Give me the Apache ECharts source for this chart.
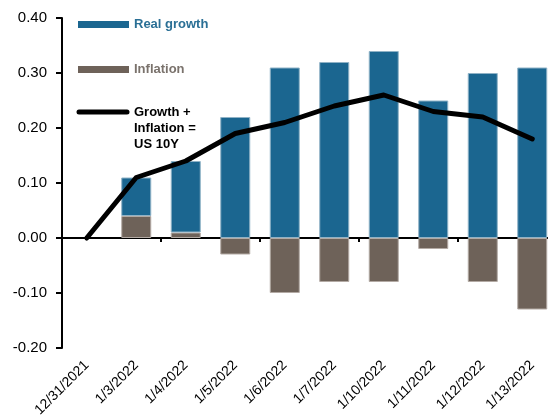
<!DOCTYPE html>
<html>
<head>
<meta charset="utf-8">
<script src="https://cdn.jsdelivr.net/npm/echarts@6/dist/echarts.min.js"></script>
<style>
  html, body { margin: 0; padding: 0; background: #fff; }
  #chart { width: 548px; height: 419px; }
</style>
</head>
<body>
<div id="chart"></div>
<script>
// Daily breakdown of the US 10Y yield change into real growth and inflation
const categories = ['12/31/2021', '1/3/2022', '1/4/2022', '1/5/2022', '1/6/2022', '1/7/2022', '1/10/2022', '1/11/2022', '1/12/2022', '1/13/2022'];
const realGrowth = [0, 0.07, 0.13, 0.22, 0.31, 0.32, 0.34, 0.25, 0.30, 0.31];
const inflation = [0, 0.04, 0.01, -0.03, -0.10, -0.08, -0.08, -0.02, -0.08, -0.13];
const us10y = [0, 0.11, 0.14, 0.19, 0.21, 0.24, 0.26, 0.23, 0.22, 0.18];
const yTicks = { min: -0.2, max: 0.4, interval: 0.1 };

const BLUE = '#1b6690';
const BROWN = '#6e6259';
const FONT = '"Liberation Sans", Arial, sans-serif';

// zero-height bars get no outline
const barData = (values) => values.map(v => v === 0 ? { value: v, itemStyle: { borderWidth: 0 } } : v);

const chart = echarts.init(document.getElementById('chart'), null, { renderer: 'canvas' });

chart.setOption({
  animation: false,
  backgroundColor: '#fff',
  textStyle: { fontFamily: FONT },
  grid: { left: 62, right: -9, top: 18, bottom: 71, containLabel: false, outerBoundsMode: 'none' },
  xAxis: [
    {
      // zero line with category ticks
      type: 'category',
      data: categories,
      boundaryGap: true,
      axisLine: { onZero: true, lineStyle: { color: '#000', width: 2 } },
      axisTick: { show: true, length: 4, lineStyle: { color: '#000', width: 2 } },
      axisLabel: { show: false },
      splitLine: { show: false }
    },
    {
      // date labels along the bottom edge
      type: 'category',
      data: categories,
      position: 'bottom',
      boundaryGap: true,
      axisLine: { show: false, onZero: false },
      axisTick: { show: false },
      axisLabel: {
        rotate: 45,
        margin: 15,
        color: '#000',
        fontSize: 14,
        fontFamily: FONT,
        interval: 0
      },
      splitLine: { show: false }
    }
  ],
  yAxis: {
    type: 'value',
    min: yTicks.min,
    max: yTicks.max,
    interval: yTicks.interval,
    axisLine: { show: true, lineStyle: { color: '#000', width: 2 } },
    axisTick: { show: true, length: 6, lineStyle: { color: '#000', width: 2 } },
    axisLabel: {
      color: '#000',
      fontSize: 15,
      fontFamily: FONT,
      margin: 15,
      formatter: v => v.toFixed(2)
    },
    splitLine: { show: false }
  },
  series: [
    {
      name: 'Inflation',
      type: 'bar',
      stack: 'yield',
      data: barData(inflation),
      barWidth: 30,
      itemStyle: { color: BROWN, borderColor: '#b3aaa4', borderWidth: 1 },
      z: 2
    },
    {
      name: 'Real growth',
      type: 'bar',
      stack: 'yield',
      data: barData(realGrowth),
      barWidth: 30,
      itemStyle: { color: BLUE, borderColor: '#8fb2c6', borderWidth: 1 },
      z: 2
    },
    {
      name: 'Growth + Inflation = US 10Y',
      type: 'line',
      data: us10y,
      showSymbol: false,
      symbol: 'none',
      lineStyle: { color: '#000', width: 5, cap: 'round', join: 'round' },
      z: 5
    }
  ],
  graphic: [
    { type: 'rect', shape: { x: 78, y: 21, width: 51, height: 7 }, style: { fill: BLUE } },
    { type: 'text', x: 134, y: 24, style: { text: 'Real growth', fill: '#2a6f95', font: 'bold 13px ' + FONT, textVerticalAlign: 'middle' } },
    { type: 'rect', shape: { x: 78, y: 66, width: 51, height: 7 }, style: { fill: BROWN } },
    { type: 'text', x: 134, y: 69, style: { text: 'Inflation', fill: '#7a726c', font: 'bold 13px ' + FONT, textVerticalAlign: 'middle' } },
    { type: 'line', shape: { x1: 79, y1: 112, x2: 127, y2: 112 }, style: { stroke: '#000', lineWidth: 5, lineCap: 'round' } },
    { type: 'text', x: 134, y: 104, style: { text: 'Growth +\nInflation =\nUS 10Y', fill: '#000', font: 'bold 13px ' + FONT, lineHeight: 16 } }
  ]
});
</script>
</body>
</html>
